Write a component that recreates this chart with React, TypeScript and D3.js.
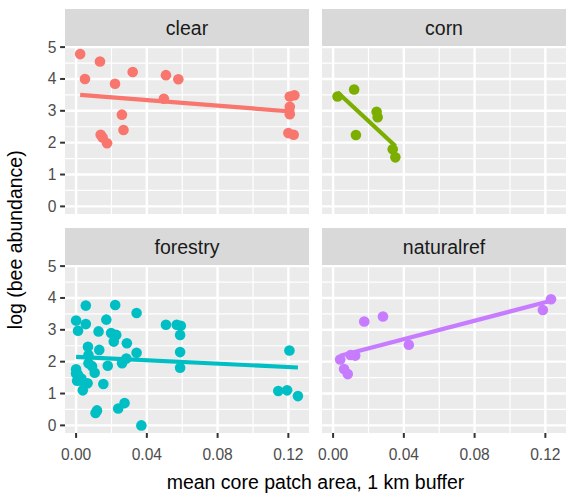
import React from 'react';
import * as d3 from 'd3';

// facet names and ggplot default hue colours
const panels = ['clear', 'corn', 'forestry', 'naturalref'];
const colors = ['#F8766D', '#7CAE00', '#00BFC4', '#C77CFF'];

// mean core patch area (x) and log bee abundance (y), per land use
const clearX = [0.0023, 0.005, 0.0135, 0.022, 0.032, 0.0259, 0.0268, 0.0139, 0.015, 0.0175, 0.0508, 0.0578, 0.0496, 0.1208, 0.1234, 0.1208, 0.1208, 0.12, 0.123];
const clearY = [4.78, 4.0, 4.55, 3.85, 4.22, 2.88, 2.4, 2.25, 2.16, 1.98, 4.12, 3.99, 3.38, 3.45, 3.49, 3.13, 2.89, 2.3, 2.25];

const cornX = [0.0025, 0.0119, 0.0246, 0.0252, 0.0129, 0.0337, 0.0352];
const cornY = [3.45, 3.67, 2.97, 2.8, 2.24, 1.79, 1.54];

const forestryX = [0.0055, 0.0221, 0.0342, 0.0, 0.0055, 0.0011, 0.0171, 0.0127, 0.0198, 0.0227, 0.0213, 0.0287, 0.0067, 0.0131, 0.0342, 0.007, 0.0284, 0.007, 0.009, 0.0179, 0.026, 0.0, 0.0, 0.0105, 0.0006, 0.003, 0.0065, 0.0038, 0.0154, 0.0118, 0.011, 0.0238, 0.0274, 0.0369, 0.0508, 0.0569, 0.0592, 0.0588, 0.0588, 0.0588, 0.1206, 0.1143, 0.1193, 0.1254, 0.003, 0.001];
const forestryY = [3.76, 3.78, 3.53, 3.29, 3.18, 2.97, 3.32, 2.95, 2.9, 2.84, 2.63, 2.58, 2.47, 2.37, 2.28, 2.21, 2.1, 1.95, 1.86, 1.87, 1.95, 1.76, 1.63, 1.65, 1.4, 1.47, 1.32, 1.1, 1.3, 0.47, 0.39, 0.53, 0.7, 0.0, 3.16, 3.16, 3.13, 2.84, 2.3, 1.81, 2.35, 1.08, 1.1, 0.92, 1.4, 1.6];

const naturalX = [0.004, 0.0062, 0.0083, 0.0099, 0.0125, 0.0176, 0.0282, 0.0428, 0.1186, 0.1232];
const naturalY = [2.07, 1.77, 1.61, 2.21, 2.19, 3.26, 3.42, 2.53, 3.62, 3.96];

const xTicks = [0, 0.04, 0.08, 0.12];
const yTicks = [0, 1, 2, 3, 4, 5];

const seriesX = [clearX, cornX, forestryX, naturalX];
const seriesY = [clearY, cornY, forestryY, naturalY];

const font = '"Liberation Sans", Arial, sans-serif';
const panelW = 244;
const panelH = 167.5;
const stripH = 37.5;
const colLeft = [65, 322];
const rowTop = [9, 228];

const expand = (lo: number, hi: number) => {
  const d = (hi - lo) * 0.05;
  return [lo - d, hi + d];
};

const allX = seriesX.flat();
const allY = seriesY.flat();

// ordinary least squares, drawn over the x range of the group (geom_smooth lm)
const fitLine = (xs: number[], ys: number[]) => {
  const mx = d3.mean(xs)!;
  const my = d3.mean(ys)!;
  let sxy = 0;
  let sxx = 0;
  xs.forEach((x, i) => {
    sxy += (x - mx) * (ys[i] - my);
    sxx += (x - mx) * (x - mx);
  });
  const b = sxy / sxx;
  const a = my - b * mx;
  const [x0, x1] = d3.extent(xs) as [number, number];
  return [[x0, a + b * x0], [x1, a + b * x1]];
};

const App = () => {
  const xDomain = expand(d3.min(allX)!, d3.max(allX)!);
  const yDomain = expand(d3.min(allY)!, d3.max(allY)!);
  const yMinor = d3.range(0.5, 5, 1);
  const xMinor = [0.02, 0.06, 0.1];

  return (
    <svg width={566} height={496} style={{ display: 'block', position: 'absolute', left: 0, top: 0 }} fontFamily={font}>
      <rect width={566} height={496} fill="white" />
      {panels.map((name, i) => {
        const col = i % 2;
        const row = Math.floor(i / 2);
        const left = colLeft[col];
        const stripTop = rowTop[row];
        const top = stripTop + stripH;
        const x = d3.scaleLinear().domain(xDomain).range([left, left + panelW]);
        const y = d3.scaleLinear().domain(yDomain).range([top + panelH, top]);
        const line = d3.line<number[]>().x(d => x(d[0])).y(d => y(d[1]));
        const fit = fitLine(seriesX[i], seriesY[i]);
        return (
          <g key={name}>
            <rect x={left} y={stripTop} width={panelW} height={stripH} fill="#D9D9D9" />
            <text x={left + panelW / 2} y={stripTop + 25.5} textAnchor="middle" fontSize={19.5} fill="#1A1A1A">{name}</text>
            <rect x={left} y={top} width={panelW} height={panelH} fill="#EBEBEB" />
            {yMinor.map(t => (
              <line key={'ym' + t} x1={left} x2={left + panelW} y1={y(t)} y2={y(t)} stroke="white" strokeWidth={1.2} />
            ))}
            {xMinor.map(t => (
              <line key={'xm' + t} x1={x(t)} x2={x(t)} y1={top} y2={top + panelH} stroke="white" strokeWidth={1.2} />
            ))}
            {yTicks.map(t => (
              <line key={'y' + t} x1={left} x2={left + panelW} y1={y(t)} y2={y(t)} stroke="white" strokeWidth={2.4} />
            ))}
            {xTicks.map(t => (
              <line key={'x' + t} x1={x(t)} x2={x(t)} y1={top} y2={top + panelH} stroke="white" strokeWidth={2.4} />
            ))}
            {seriesX[i].map((v, j) => (
              <circle key={j} cx={x(v)} cy={y(seriesY[i][j])} r={5.3} fill={colors[i]} />
            ))}
            <path d={line(fit) || ''} stroke={colors[i]} strokeWidth={4.2} fill="none" />
            {col === 0 && yTicks.map(t => (
              <g key={'yt' + t}>
                <line x1={left - 4.9} x2={left} y1={y(t)} y2={y(t)} stroke="#333333" strokeWidth={2} />
                <text x={left - 8.5} y={y(t)} dy="0.35em" textAnchor="end" fontSize={15.6} fill="#4D4D4D">{t}</text>
              </g>
            ))}
            {row === 1 && xTicks.map(t => (
              <g key={'xt' + t}>
                <line x1={x(t)} x2={x(t)} y1={top + panelH} y2={top + panelH + 4.9} stroke="#333333" strokeWidth={2} />
                <text x={x(t)} y={460} textAnchor="middle" fontSize={15.6} fill="#4D4D4D">{d3.format('.2f')(t)}</text>
              </g>
            ))}
          </g>
        );
      })}
      <text x={(65 + 566) / 2} y={489} textAnchor="middle" fontSize={19.5} fill="black">mean core patch area, 1 km buffer</text>
      <text transform={`translate(22, ${(rowTop[0] + stripH + rowTop[1] + stripH + panelH) / 2}) rotate(-90)`} textAnchor="middle" fontSize={19.5} fill="black">log (bee abundance)</text>
    </svg>
  );
};

export default App;
